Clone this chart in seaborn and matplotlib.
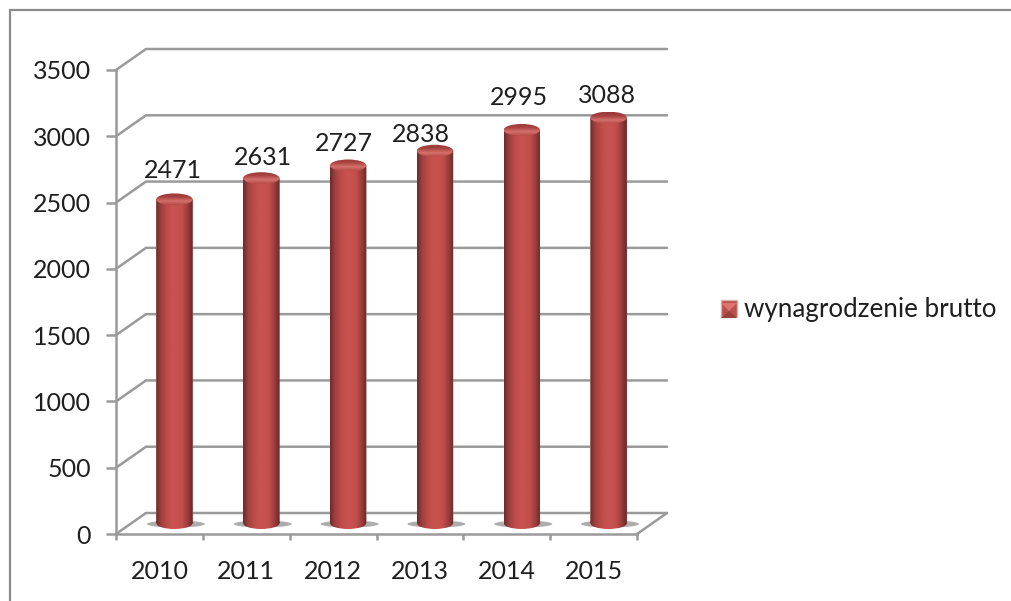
import numpy as np
import matplotlib
matplotlib.use("Agg")
import matplotlib.pyplot as plt
from matplotlib.colors import LinearSegmentedColormap
from matplotlib.lines import Line2D
from matplotlib.patches import Ellipse, Patch, PathPatch, Polygon
from matplotlib.path import Path
from matplotlib.ticker import FixedLocator
import seaborn as sns

# data
years = ["2010", "2011", "2012", "2013", "2014", "2015"]
wages = [2471, 2631, 2727, 2838, 2995, 3088]
y_ticks = [0, 500, 1000, 1500, 2000, 2500, 3000, 3500]
series_name = "wynagrodzenie brutto"

# label nudges, pixels from top of bar (excel put them a bit unevenly)
label_dx = [-2, 2, -4, -14, -3, -2]
label_dy = [29, 21, 22, 16, 32, 22]

W, H = 1011, 601
GRAY = "#9a9a9a"
TEXT = "#1f1f1f"

sns.set_theme(style="white")
plt.rcParams["font.family"] = ["Lato", "DejaVu Sans"]
FS = 18

fig = plt.figure(figsize=(W / 100, H / 100), dpi=100)
# axes is the front plane of the fake 3d box
ax = fig.add_axes([116 / W, 1 - 534 / H, (637 - 116) / W, (534 - 70) / H])
ax.patch.set_alpha(0)

# pixel -> data size
xu = 6 / (637 - 116)
yu = 3500 / (534 - 70)
depth_x, depth_y = 30 * xu, 21 * yu
bar_dx, bar_dy = 15 * xu, 7 * yu
bar_w = 36.5 * xu
cap_h = 12 * yu

sns.barplot(x=years, y=wages, color="#c0504d", width=bar_w, bottom=bar_dy,
            ax=ax, label=series_name, legend=False, zorder=3)
ax.set_xlim(-0.5, 5.5)
ax.set_ylim(0, 3500)
ax.set_xlabel("")
ax.set_ylabel("")

# back wall + side wall lines
for t in y_ticks:
    ax.plot([-0.5, -0.5 + depth_x, 5.5 + depth_x], [t, t + depth_y, t + depth_y],
            color=GRAY, lw=1.8, clip_on=False, zorder=1, solid_joinstyle="miter")
ax.plot([5.5, 5.5 + depth_x], [0, depth_y], color=GRAY, lw=1.8, clip_on=False, zorder=1)

# ticks
for side in ["top", "right"]:
    ax.spines[side].set_visible(False)
for side in ["left", "bottom"]:
    ax.spines[side].set_color(GRAY)
    ax.spines[side].set_linewidth(1.8)
ax.set_yticks(y_ticks)
ax.tick_params(axis="y", length=7.2, width=1.8, color=GRAY, labelcolor=TEXT,
               labelsize=FS, pad=11, left=True)
ax.set_xticks(range(6), years)
ax.tick_params(axis="x", which="major", length=0, labelcolor=TEXT, labelsize=FS, pad=19)
ax.xaxis.set_minor_locator(FixedLocator(np.arange(-0.5, 6, 1)))
ax.tick_params(axis="x", which="minor", length=4.5, width=1.8, color=GRAY, bottom=True)

# cylinders
side_cm = LinearSegmentedColormap.from_list(
    "side", ["#6e2b2a", "#a04140", "#bb4b48", "#c7524f", "#c8524f", "#c04e4b", "#9a3d3b", "#682827"])
cap_cm = LinearSegmentedColormap.from_list("cap", ["#98393a", "#a84240", "#d4706b", "#b54a47"])
ramp = np.linspace(0, 1, 128).reshape(1, -1)
cap_ramp = np.linspace(0, 1, 64).reshape(-1, 1)

for i, bar in enumerate(ax.patches):
    bar.set_x(bar.get_x() + bar_dx)
    x0, w = bar.get_x(), bar.get_width()
    xc = x0 + w / 2
    top = bar.get_y() + bar.get_height()
    base = 11 * yu

    # floor shadow
    ax.add_patch(Ellipse((xc + 1.5 * xu, 10 * yu), 58 * xu, 7 * yu, color="#777777",
                         alpha=0.6, lw=0, zorder=2, clip_on=False))

    # body outline: straight sides, round foot
    foot = Ellipse((xc, base), w, cap_h).get_path().transformed(
        Ellipse((xc, base), w, cap_h).get_patch_transform())
    rect = Path([(x0, base), (x0 + w, base), (x0 + w, top), (x0, top), (x0, base)])
    body = Path.make_compound_path(foot, rect)
    clip = PathPatch(body, transform=ax.transData, visible=False)
    ax.add_patch(clip)
    bar.set_clip_path(clip)
    im = ax.imshow(ramp, cmap=side_cm, extent=(x0, x0 + w, 0, top), aspect="auto",
                   origin="lower", zorder=4)
    im.set_clip_path(clip)

    # top cap
    cap = Ellipse((xc, top), w, cap_h, transform=ax.transData, visible=False)
    ax.add_patch(cap)
    im2 = ax.imshow(cap_ramp, cmap=cap_cm, aspect="auto", origin="upper", zorder=5,
                    extent=(x0, x0 + w, top - cap_h / 2, top + cap_h / 2))
    im2.set_clip_path(cap)

    # value label
    ax.annotate(str(wages[i]), (xc, top), xytext=(label_dx[i] - 0, label_dy[i]),
                textcoords="offset pixels", ha="center", va="center",
                fontsize=FS, color=TEXT, zorder=6, annotation_clip=False)

ax.set_xlim(-0.5, 5.5)
ax.set_ylim(0, 3500)

# legend
ax.legend(handles=[Patch(facecolor="#b8504c", edgecolor="#d9b0ae", label=series_name)],
          loc="center left", bbox_to_anchor=(721 / W, 1 - 310 / H),
          bbox_transform=fig.transFigure, frameon=False, fontsize=18.7,
          handlelength=0.62, handleheight=0.62, handletextpad=0.27,
          borderpad=0, borderaxespad=0, labelcolor=TEXT)

def px(x, y):
    return (x / W, 1 - y / H)

# little pyramid look on the legend key
fig.add_artist(Polygon([px(721, 303), px(737, 303), px(729, 311)], closed=True,
                       transform=fig.transFigure, color="#e0736d", lw=0, zorder=10))
fig.add_artist(Polygon([px(721, 318), px(737, 318), px(729, 311)], closed=True,
                       transform=fig.transFigure, color="#98403c", lw=0, zorder=10))

# picture frame, left and top only
fig.add_artist(Line2D([9.5 / W, 9.5 / W, 1], [0, 1 - 9.5 / H, 1 - 9.5 / H],
                      transform=fig.transFigure, color="#8a8a8a", lw=1.6,
                      solid_joinstyle="miter"))

fig.savefig("out.png", dpi=100, facecolor="white")
